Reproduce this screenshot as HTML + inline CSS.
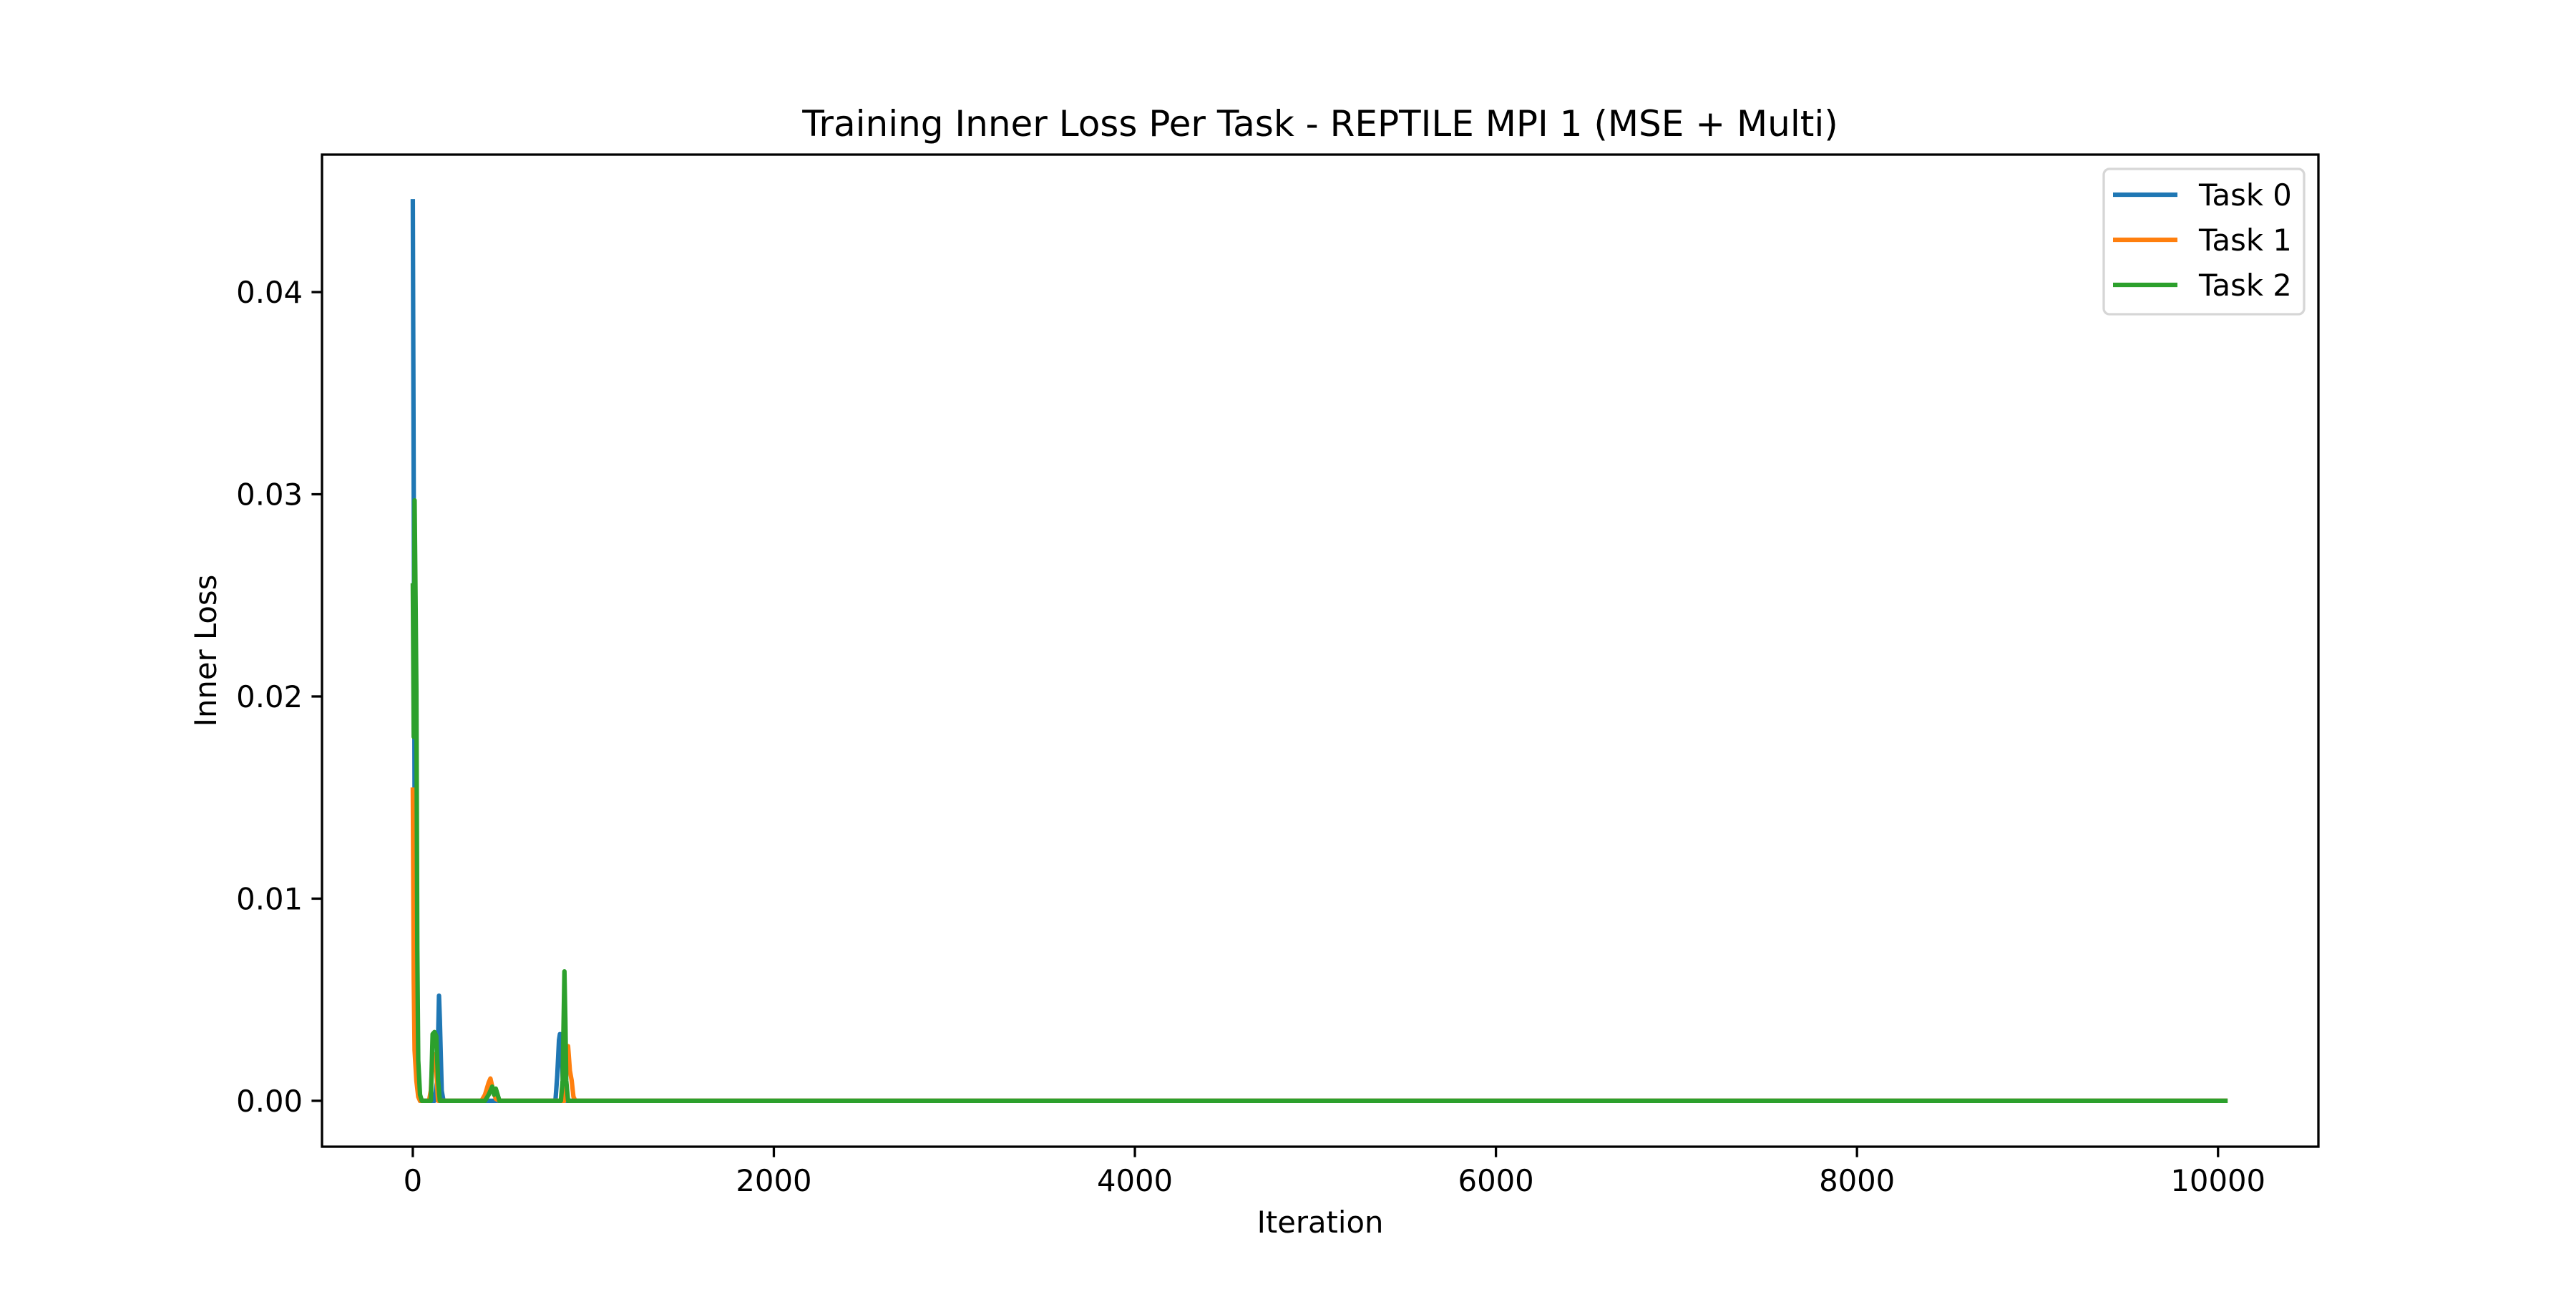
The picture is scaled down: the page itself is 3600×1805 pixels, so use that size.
<!DOCTYPE html>
<html><head><meta charset="utf-8"><style>
html,body{margin:0;padding:0;background:#fff;}
svg text{font-family:"DejaVu Sans","Liberation Sans",sans-serif;fill:#000;}
</style></head><body>
<svg id="chart" width="3600" height="1800" viewBox="0 0 3600 1800" xmlns="http://www.w3.org/2000/svg">
<rect width="3600" height="1800" fill="#fff"/>
<text x="1845" y="190" font-size="50" text-anchor="middle">Training Inner Loss Per Task - REPTILE MPI 1 (MSE + Multi)</text>
<text x="1845" y="1722" font-size="41.7" text-anchor="middle">Iteration</text>
<text x="0" y="0" font-size="41.7" text-anchor="middle" transform="translate(302,909) rotate(-90)">Inner Loss</text>
<g id="series"></g>
<g id="axes"></g>
<rect x="450" y="216" width="2790" height="1386" fill="none" stroke="#000" stroke-width="3.3"/>
<g>
<rect x="2940" y="236" width="280" height="203" rx="8" fill="#fff" fill-opacity="0.8" stroke="#d6d6d6" stroke-width="3.3"/>
<line x1="2953" y1="272" x2="3043" y2="272" stroke="#1f77b4" stroke-width="6.25"/>
<text x="3073" y="287" font-size="41.7">Task 0</text>
<line x1="2953" y1="335" x2="3043" y2="335" stroke="#ff7f0e" stroke-width="6.25"/>
<text x="3073" y="350" font-size="41.7">Task 1</text>
<line x1="2953" y1="398" x2="3043" y2="398" stroke="#2ca02c" stroke-width="6.25"/>
<text x="3073" y="413" font-size="41.7">Task 2</text>
</g>
</svg>
<script>
const xTicks = [0, 2000, 4000, 6000, 8000, 10000];
const xTickLabels = ["0", "2000", "4000", "6000", "8000", "10000"];
const yTicks = [0, 0.01, 0.02, 0.03, 0.04];
const yTickLabels = ["0.00", "0.01", "0.02", "0.03", "0.04"];
const task0X = [0, 5, 10, 20, 30, 40, 120, 135, 140, 145, 150, 160, 170, 790, 800, 810, 815, 820, 830, 840, 850, 10053];
const task0Y = [0.0446, 0.0300, 0.0150, 0.004, 0.0005, 0, 0, 0.001, 0.003, 0.0052, 0.004, 0.0005, 0, 0, 0.0012, 0.003, 0.0033, 0.003, 0.0012, 0.0002, 0, 0];
const task1X = [0, 5, 10, 20, 30, 40, 90, 100, 110, 120, 130, 140, 380, 400, 420, 430, 440, 460, 480, 840, 850, 860, 870, 880, 890, 900, 10053];
const task1Y = [0.0155, 0.0060, 0.0025, 0.0010, 0.0002, 0, 0, 0.0005, 0.0022, 0.0023, 0.0015, 0, 0, 0.0003, 0.0009, 0.0011, 0.0007, 0.0001, 0, 0, 0.0015, 0.0027, 0.0015, 0.0010, 0.0002, 0, 0];
const task2X = [0, 5, 10, 15, 20, 25, 30, 40, 50, 100, 110, 120, 130, 140, 150, 400, 420, 440, 450, 460, 480, 820, 830, 840, 845, 850, 860, 10053];
const task2Y = [0.0256, 0.0180, 0.0297, 0.0250, 0.0203, 0.0075, 0.0020, 0.0003, 0, 0, 0.0033, 0.0034, 0.0032, 0.0010, 0, 0, 0.0003, 0.0007, 0.0003, 0.0006, 0, 0, 0.001, 0.0064, 0.004, 0.001, 0, 0];

const NS = "http://www.w3.org/2000/svg";
const xMin = -503, xMax = 10556, yMin = -0.00227, yMax = 0.0468;
const L = 450, R = 3240, T = 216, B = 1602;
function sx(v){ return L + (v - xMin) / (xMax - xMin) * (R - L); }
function sy(v){ return B - (v - yMin) / (yMax - yMin) * (B - T); }

const axes = document.getElementById('axes');
xTicks.forEach((t, i) => {
  const ln = document.createElementNS(NS, 'line');
  ln.setAttribute('x1', sx(t)); ln.setAttribute('x2', sx(t));
  ln.setAttribute('y1', B); ln.setAttribute('y2', B + 14.6);
  ln.setAttribute('stroke', '#000'); ln.setAttribute('stroke-width', 3.3);
  
  
  axes.appendChild(ln);
  const tx = document.createElementNS(NS, 'text');
  tx.setAttribute('x', sx(t)); tx.setAttribute('y', B + 62);
  tx.setAttribute('font-size', 41.7); tx.setAttribute('text-anchor', 'middle');
  tx.textContent = xTickLabels[i];
  
  
  axes.appendChild(tx);
});
yTicks.forEach((t, i) => {
  const ln = document.createElementNS(NS, 'line');
  ln.setAttribute('x1', L - 14.6); ln.setAttribute('x2', L);
  ln.setAttribute('y1', sy(t)); ln.setAttribute('y2', sy(t));
  ln.setAttribute('stroke', '#000'); ln.setAttribute('stroke-width', 3.3);
  
  
  axes.appendChild(ln);
  const tx = document.createElementNS(NS, 'text');
  tx.setAttribute('x', L - 27); tx.setAttribute('y', sy(t) + 15);
  tx.setAttribute('font-size', 41.7); tx.setAttribute('text-anchor', 'end');
  tx.textContent = yTickLabels[i];
  
  
  axes.appendChild(tx);
});

const series = document.getElementById('series');
[[task0X, task0Y, '#1f77b4', 'task-0-line'], [task1X, task1Y, '#ff7f0e', 'task-1-line'], [task2X, task2Y, '#2ca02c', 'task-2-line']].forEach(s => {
  const p = document.createElementNS(NS, 'polyline');
  p.setAttribute('points', s[0].map((x, i) => sx(x).toFixed(1) + ',' + sy(s[1][i]).toFixed(1)).join(' '));
  p.setAttribute('fill', 'none'); p.setAttribute('stroke', s[2]);
  p.setAttribute('stroke-width', 6.25); p.setAttribute('stroke-linejoin', 'round');
  
  
  series.appendChild(p);
});
</script>
</body></html>
